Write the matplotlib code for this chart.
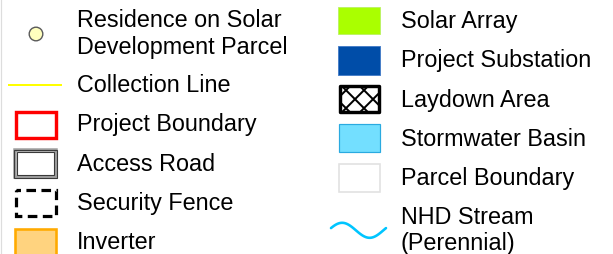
import numpy as np
import matplotlib
matplotlib.use("Agg")
import matplotlib.pyplot as plt
from matplotlib.patches import Rectangle, Circle

plt.rcParams["font.family"] = ["Liberation Sans", "DejaVu Sans"]

# legend entries (label lines, symbol kind)
left_labels = [
    ["Residence on Solar", "Development Parcel"],
    ["Collection Line"],
    ["Project Boundary"],
    ["Access Road"],
    ["Security Fence"],
    ["Inverter"],
]
left_kinds = ["residence", "line", "boundary", "road", "fence", "inverter"]

right_labels = [
    ["Solar Array"],
    ["Project Substation"],
    ["Laydown Area"],
    ["Stormwater Basin"],
    ["Parcel Boundary"],
    ["NHD Stream", "(Perennial)"],
]
right_kinds = ["solar", "substation", "laydown", "stormwater", "parcel", "stream"]

FS = 16.8
PITCH = 39.2
PX = 0.72  # one pixel in points at dpi 100


def draw_symbol(ax, kind, x0, x1, yc):
    h = 29
    top = yc - h / 2
    w = x1 - x0
    if kind == "residence":
        ax.add_patch(Circle(((x0 + x1) / 2 + 0.5, yc), 6.8, fc="#FFFFBE", ec="#5A5A5A", lw=1.0))
    elif kind == "line":
        ax.plot([x0 - 6, x1 + 5], [yc, yc], color="#FFFF00", lw=2 * PX, solid_capstyle="butt")
    elif kind == "boundary":
        ax.add_patch(Rectangle((x0 + 1.5, top + 1.5), w - 3, h - 3, fc="white", ec="#FF0000", lw=3.4 * PX))
    elif kind == "road":
        ax.add_patch(Rectangle((x0 + 1, top + 1), w - 2, h - 2, fc="white", ec="#A0A0A0", lw=3.5 * PX))
        ax.add_patch(Rectangle((x0 + 0.3, top + 0.3), w - 0.6, h - 0.6, fill=False, ec="#3A3A3A", lw=1.1 * PX))
        ax.add_patch(Rectangle((x0 + 2.7, top + 2.7), w - 5.4, h - 5.4, fill=False, ec="#3A3A3A", lw=1.1 * PX))
    elif kind == "fence":
        ax.add_patch(Rectangle((x0 + 1.5, top + 1.5), w - 3, h - 3, fc="white", ec="black", lw=3.2 * PX,
                               linestyle=(1.6, (3.0, 1.7))))
    elif kind == "inverter":
        ax.add_patch(Rectangle((x0 + 1, top + 1), w - 2, h, fc="#FFD37F", ec="#FFAA00", lw=2.6 * PX))
    elif kind == "solar":
        ax.add_patch(Rectangle((x0, top + 1), w, h - 2, fc="#AAFF00", ec="#B8F060", lw=0.8 * PX))
    elif kind == "substation":
        ax.add_patch(Rectangle((x0, top), w, h, fc="#004DA8", ec="#4A80C8", lw=1.0 * PX))
    elif kind == "laydown":
        box = Rectangle((x0 + 1.2, top + 1.2), w - 2.4, h - 2.4, fc="white", ec="none")
        ax.add_patch(box)
        # diagonal cross-hatch, clipped to the box
        cx = x0 + 17
        for k in range(-4, 5):
            c1 = cx + yc + 18 * k
            c2 = cx - yc + 18 * k
            xs = np.array([x0 - 40, x1 + 40])
            ln1, = ax.plot(xs, c1 - xs, color="black", lw=2.0 * PX)
            ln2, = ax.plot(xs, xs - c2, color="black", lw=2.0 * PX)
            ln1.set_clip_path(box)
            ln2.set_clip_path(box)
        ax.add_patch(Rectangle((x0 + 1.5, top + 1.5), w - 3, h - 3, fill=False, ec="black",
                               lw=3.4 * PX, joinstyle="round"))
    elif kind == "stormwater":
        ax.add_patch(Rectangle((x0 + 0.5, top + 0.5), w - 1, h - 1, fc="#73DFFF", ec="#2AAAE0", lw=1.2 * PX))
    elif kind == "parcel":
        ax.add_patch(Rectangle((x0 + 0.5, top + 0.5), w - 1, h - 1, fc="white", ec="#E1E1E1", lw=1.6 * PX))
    elif kind == "stream":
        xs = np.linspace(x0 - 7, x1 + 6, 80)
        t = (xs - xs[0]) / (xs[-1] - xs[0])
        ys = yc - 7.5 * np.sin(2 * np.pi * t + 0.3)
        ax.plot(xs, ys, color="#00C5FF", lw=2.6 * PX, solid_capstyle="round")


def main() -> None:
    fig = plt.figure(figsize=(6.13, 2.54), dpi=100)
    ax = fig.add_axes([0, 0, 1, 1])
    ax.set_xlim(0, 613)
    ax.set_ylim(254, 0)
    ax.axis("off")

    # thin frame edge on the left
    ax.plot([0.5, 0.5], [0, 254], color="#DDDDDD", lw=1.2 * PX)

    # --- left column ---
    base = 92.3
    for i, (lines, kind) in enumerate(zip(left_labels, left_kinds)):
        if i == 0:
            ax.text(77, 27.0, lines[0], fontsize=FS, va="baseline")
            ax.text(77, 54.3, lines[1], fontsize=FS, va="baseline")
            draw_symbol(ax, kind, 14, 57, 34)
            continue
        b = base + (i - 1) * PITCH
        ax.text(77, b, lines[0], fontsize=FS, va="baseline")
        draw_symbol(ax, kind, 14, 57, b - 7)

    # --- right column ---
    base = 28.3
    for i, (lines, kind) in enumerate(zip(right_labels, right_kinds)):
        b = base + i * PITCH
        ax.text(401, b, lines[0], fontsize=FS, va="baseline")
        if len(lines) > 1:
            ax.text(401, b + 25.5, lines[1], fontsize=FS, va="baseline")
            draw_symbol(ax, kind, 338, 380, b + 6)
        else:
            draw_symbol(ax, kind, 338, 380, b - 7.5)

    fig.savefig("out.png", dpi=100)


if __name__ == "__main__":
    main()
